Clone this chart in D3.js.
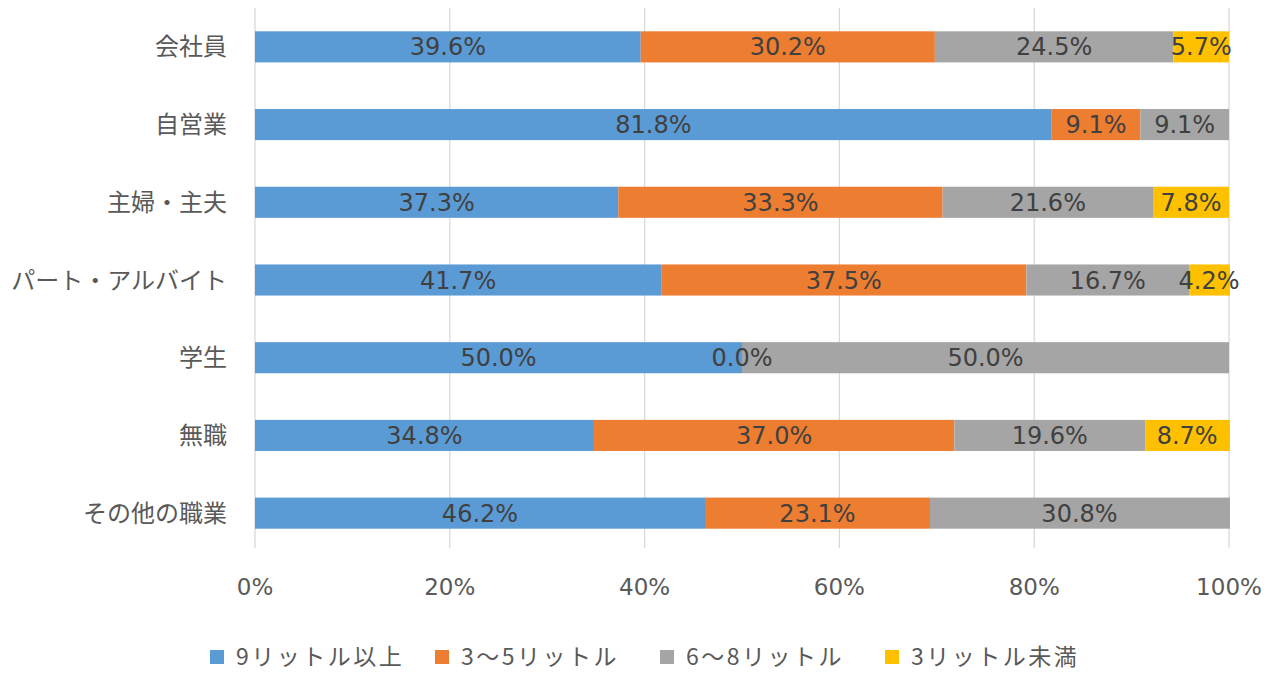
<!DOCTYPE html>
<html>
<head>
<meta charset="utf-8">
<script src="https://cdn.jsdelivr.net/npm/d3@7"></script>
<style>
  body { margin: 0; background: #fff; }
  text { font-family: "DejaVu Sans", "Noto Sans CJK JP", sans-serif; }
  .jp { font-family: "Noto Sans CJK JP", sans-serif; }
</style>
</head>
<body>
<svg id="chart" width="1275" height="673"></svg>
<script>
// categories and series (percent)
const categories = ["会社員", "自営業", "主婦・主夫", "パート・アルバイト", "学生", "無職", "その他の職業"];
const seriesNames = ["9リットル以上", "3～5リットル", "6～8リットル", "3リットル未満"];
const seriesColors = ["#5b9bd5", "#ed7d31", "#a5a5a5", "#ffc000"];
const over9 = [39.6, 81.8, 37.3, 41.7, 50.0, 34.8, 46.2];
const from3to5 = [30.2, 9.1, 33.3, 37.5, 0.0, 37.0, 23.1];
const from6to8 = [24.5, 9.1, 21.6, 16.7, 50.0, 19.6, 30.8];
const under3 = [5.7, 0, 7.8, 4.2, 0, 8.7, 0];
// which labels are drawn (Excel hides some zero labels)
const showUnder3 = [true, false, true, true, false, true, false];
const tickLabels = ["0%", "20%", "40%", "60%", "80%", "100%"];

const series = [over9, from3to5, from6to8, under3];

const svg = d3.select("#chart");
const x = d3.scaleLinear().domain([0, 100]).range([255, 1229]);
const y = d3.scaleBand().domain(categories).range([8, 552]).paddingInner(0.6).paddingOuter(0.3);

// gridlines
svg.append("g").selectAll("line")
  .data(d3.range(0, 101, 20))
  .join("line")
  .attr("x1", d => x(d)).attr("x2", d => x(d))
  .attr("y1", 8).attr("y2", 548)
  .attr("stroke", "#d9d9d9").attr("stroke-width", 1.3);

// x tick labels
svg.append("g").selectAll("text")
  .data(tickLabels)
  .join("text")
  .attr("x", (d, i) => x(i * 20))
  .attr("y", 587)
  .attr("dy", "0.36em")
  .attr("text-anchor", "middle")
  .attr("font-size", 23)
  .attr("fill", "#595959")
  .text(d => d);

// category labels
svg.append("g").selectAll("text")
  .data(categories)
  .join("text")
  .attr("class", "jp")
  .attr("x", 227)
  .attr("y", d => y(d) + y.bandwidth() / 2)
  .attr("dy", "0.36em")
  .attr("text-anchor", "end")
  .attr("font-size", 24)
  .attr("fill", "#595959")
  .text(d => d);

// stacked segments
const segs = [];
categories.forEach((c, i) => {
  let acc = 0;
  series.forEach((s, k) => {
    const show = k === 3 ? showUnder3[i] : true;
    segs.push({ cat: c, k, x0: acc, x1: acc + s[i], v: s[i], show });
    acc += s[i];
  });
});

svg.append("g").selectAll("rect")
  .data(segs.filter(d => d.v > 0))
  .join("rect")
  .attr("x", d => x(d.x0))
  .attr("y", d => y(d.cat))
  .attr("width", d => x(d.x1) - x(d.x0))
  .attr("height", y.bandwidth())
  .attr("fill", d => seriesColors[d.k]);

svg.append("g").selectAll("text")
  .data(segs.filter(d => d.show))
  .join("text")
  .attr("x", d => (x(d.x0) + x(Math.min(d.x1, 100))) / 2)
  .attr("y", d => y(d.cat) + y.bandwidth() / 2)
  .attr("dy", "0.36em")
  .attr("text-anchor", "middle")
  .attr("font-size", 24)
  .attr("fill", "#404040")
  .text(d => d.v.toFixed(1) + "%");

// legend
const legend = svg.append("g").selectAll("g")
  .data(seriesNames)
  .join("g")
  .attr("transform", (d, i) => `translate(${210 + i * 225},650)`);
legend.append("rect")
  .attr("width", 14).attr("height", 14)
  .attr("fill", (d, i) => seriesColors[i]);
legend.append("text")
  .attr("class", "jp")
  .attr("x", 26).attr("y", 7)
  .attr("dy", "0.36em")
  .attr("font-size", 23)
  .attr("letter-spacing", 2.5)
  .attr("fill", "#595959")
  .text(d => d);
</script>
</body>
</html>
